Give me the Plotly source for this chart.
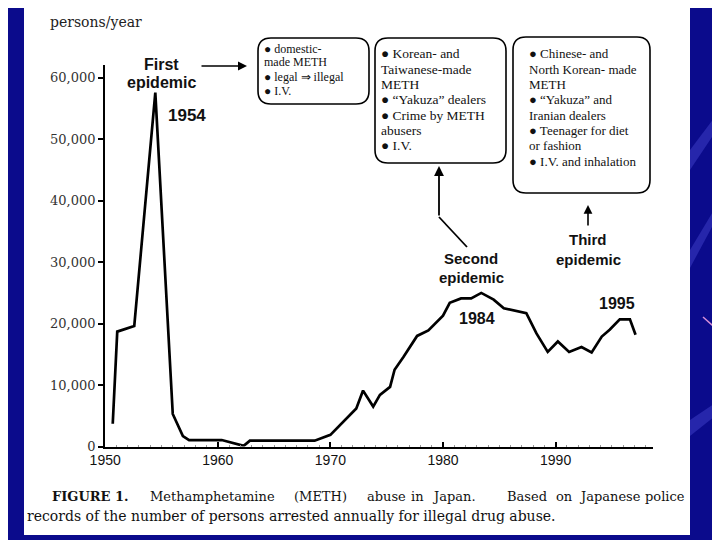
import plotly.graph_objects as go

# ---------------- data ----------------
years = [1950.67, 1951.07, 1952.58, 1954.45, 1956.0, 1956.9, 1957.45, 1960.35,
         1962.3, 1962.85, 1968.6, 1970.0, 1972.3, 1972.9, 1973.8, 1974.4,
         1975.3, 1975.7, 1976.5, 1977.7, 1978.7, 1980.0, 1980.6, 1981.6,
         1982.5, 1983.4, 1984.5, 1985.4, 1987.4, 1988.3, 1989.3, 1990.2,
         1991.2, 1992.3, 1993.2, 1994.1, 1994.8, 1995.7, 1996.6, 1997.1]
persons = [3700, 18700, 19600, 57600, 5300, 1700, 1050, 1050,
           100, 950, 950, 1900, 6200, 9100, 6500, 8400,
           9700, 12500, 14600, 18000, 18900, 21300, 23400, 24100,
           24100, 25000, 23900, 22500, 21700, 18400, 15400, 17100,
           15400, 16200, 15300, 17900, 19000, 20700, 20700, 18200]

x_ticks = [1950, 1960, 1970, 1980, 1990]
y_ticks = [0, 10000, 20000, 30000, 40000, 50000, 60000]

box1_lines = ["● domestic-", "made METH", "● legal ⇒ illegal", "● I.V."]
box2_lines = ["● Korean- and", "Taiwanese-made", "METH", "● “Yakuza” dealers",
              "● Crime by METH", "abusers", "● I.V."]
box3_lines = ["● Chinese- and", "North Korean- made", "METH", "● “Yakuza” and",
              "Iranian dealers", "● Teenager for diet", "or fashion",
              "● I.V. and inhalation"]
caption1_words = ["FIGURE 1.", "Methamphetamine", "(METH)", "abuse", "in",
                  "Japan.", "Based", "on", "Japanese", "police"]
caption2 = "records of the number of persons arrested annually for illegal drug abuse."

W, H = 720, 540
OFF = 8  # page offset observed in the rendered screenshot


def px(x):
    return (x - OFF) / W


def py(y):
    return 1 - (y - OFF) / H


SERIF = "DejaVu Serif"
TIMES = "Liberation Serif"
SANS = "Liberation Sans, Arial"

fig = go.Figure()
fig.add_trace(go.Scatter(x=years, y=persons, mode="lines",
                         line=dict(color="black", width=2.7),
                         hoverinfo="skip", showlegend=False))

fig.update_layout(
    width=W, height=H,
    margin=dict(l=0, r=0, t=0, b=0, pad=0),
    paper_bgcolor="#0b0b8c",
    plot_bgcolor="rgba(0,0,0,0)",
    showlegend=False,
    xaxis=dict(domain=[px(105.2), px(653)], range=[1950, 1998.65], automargin=False,
               tickvals=x_ticks, ticktext=[str(v) for v in x_ticks],
               ticks="inside", ticklen=5, tickwidth=2, tickcolor="black",
               minor=dict(dtick=1, ticks="inside", ticklen=2, tickcolor="#999", tickwidth=1),
               showline=True, linecolor="black", linewidth=1.5,
               showgrid=False, zeroline=False,
               tickfont=dict(family=SANS, size=14, color="#111")),
    yaxis=dict(domain=[py(446.5), py(65)], range=[0, 62100], automargin=False,
               tickvals=y_ticks, tickformat=",d",
               ticks="outside", ticklen=5, tickwidth=1.5, tickcolor="black",
               showline=True, linecolor="black", linewidth=2.2,
               showgrid=False, zeroline=False,
               tickfont=dict(family=SERIF, size=13, color="#333")),
)

shapes = []
# white page
shapes.append(dict(type="rect", xref="paper", yref="paper", layer="below",
                   x0=px(24), x1=px(690), y0=py(535), y1=py(2),
                   fillcolor="white", line=dict(width=0)))
# background streaks on the right
for (a, b, c, d) in [((690, 150), (720, 110), (720, 125), (690, 170)),
                     ((690, 250), (720, 200), (720, 212), (690, 268)),
                     ((690, 420), (720, 400), (720, 412), (690, 436))]:
    shapes.append(dict(type="path", xref="paper", yref="paper", layer="below",
                       path="M %f,%f L %f,%f L %f,%f L %f,%f Z" % (
                           px(a[0]), py(a[1]), px(b[0]), py(b[1]),
                           px(c[0]), py(c[1]), px(d[0]), py(d[1])),
                       fillcolor="rgba(90,90,230,0.35)", line=dict(width=0)))
shapes.append(dict(type="line", xref="paper", yref="paper",
                   x0=px(703), y0=py(317), x1=px(720), y1=py(332),
                   line=dict(color="#d890d8", width=1.5)))


def rrect(x0, y0, x1, y1, r):
    pts = [
        ("M", [(x0 + r, y0)]), ("L", [(x1 - r, y0)]), ("Q", [(x1, y0), (x1, y0 + r)]),
        ("L", [(x1, y1 - r)]), ("Q", [(x1, y1), (x1 - r, y1)]),
        ("L", [(x0 + r, y1)]), ("Q", [(x0, y1), (x0, y1 - r)]),
        ("L", [(x0, y0 + r)]), ("Q", [(x0, y0), (x0 + r, y0)]),
    ]
    s = ""
    for cmd, ps in pts:
        s += cmd + " " + " ".join("%f,%f" % (px(a), py(b)) for a, b in ps) + " "
    return s + "Z"


for (x0, y0, x1, y1) in [(258, 38, 369, 104), (375, 38, 506, 163), (513, 37, 650, 193)]:
    shapes.append(dict(type="path", xref="paper", yref="paper",
                       path=rrect(x0, y0, x1, y1, 13),
                       line=dict(color="black", width=1.6)))
# second-epidemic arrow diagonal part
shapes.append(dict(type="line", xref="paper", yref="paper",
                   x0=px(439), y0=py(217), x1=px(467), y1=py(247),
                   line=dict(color="black", width=1.8)))
fig.update_layout(shapes=shapes)

ann = []


def text(x, y, s, size, family, bold=False, anchor="center", color="#111"):
    ann.append(dict(xref="paper", yref="paper", x=px(x), y=py(y), text=("<b>%s</b>" % s) if bold else s,
                    showarrow=False, xanchor=anchor, yanchor="middle",
                    font=dict(family=family, size=size, color=color)))


text(48, 22, "persons/year", 14, SERIF, anchor="left", color="#222")
text(161, 64, "First", 16, SANS, bold=True)
text(161, 83, "epidemic", 16, SANS, bold=True)
text(187, 115, "1954", 17, SANS, bold=True)
text(471, 258, "Second", 15, SANS, bold=True)
text(471, 277, "epidemic", 15, SANS, bold=True)
text(588, 240, "Third", 15, SANS, bold=True)
text(588, 259, "epidemic", 15, SANS, bold=True)
text(477, 318, "1984", 16, SANS, bold=True)
text(617, 303, "1995", 16, SANS, bold=True)

for s, yy in zip(box1_lines, [49, 62, 77, 91]):
    text(262, yy, s, 12, TIMES, anchor="left")
for i, s in enumerate(box2_lines):
    text(379, 54 + i * 15.3, s, 13.5, TIMES, anchor="left")
for i, s in enumerate(box3_lines):
    text(527, 54 + i * 15.3, s, 13, TIMES, anchor="left")

cap_x = [50, 148, 292, 365, 409, 430, 505, 554, 577, 643]
for i, (w, xx) in enumerate(zip(caption1_words, cap_x)):
    text(xx, 496, w, 13, SERIF, bold=(i == 0), anchor="left")
text(25, 516, caption2, 14, SERIF, anchor="left")

# arrows
ann.append(dict(xref="paper", yref="paper", x=px(247), y=py(66), ax=-47, ay=0,
                text="", showarrow=True, arrowhead=2, arrowsize=1.2, arrowwidth=1.5,
                arrowcolor="black"))
ann.append(dict(xref="paper", yref="paper", x=px(439), y=py(166), ax=0, ay=51,
                text="", showarrow=True, arrowhead=2, arrowsize=1.1, arrowwidth=1.8,
                arrowcolor="black"))
ann.append(dict(xref="paper", yref="paper", x=px(588), y=py(205), ax=0, ay=22,
                text="", showarrow=True, arrowhead=2, arrowsize=1.1, arrowwidth=1.6,
                arrowcolor="black"))
fig.update_layout(annotations=ann)

fig.write_html("out.html")
